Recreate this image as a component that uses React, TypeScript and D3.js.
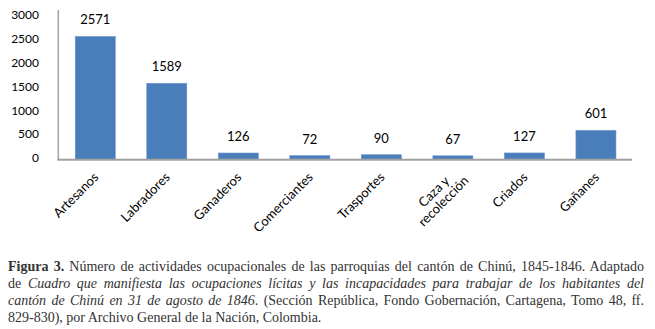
import React, { useEffect, useRef } from "react";
import * as d3 from "d3";

const categories = ["Artesanos", "Labradores", "Ganaderos", "Comerciantes", "Trasportes", "Caza y\nrecolección", "Criados", "Gañanes"];
const values = [2571, 1589, 126, 72, 90, 67, 127, 601];
const yTicks = [0, 500, 1000, 1500, 2000, 2500, 3000];

type Seg = { t: string; s?: "b" | "i" };
const captionLines: Seg[][] = [
  [{ t: "Figura 3.", s: "b" }, { t: " Número de actividades ocupacionales de las parroquias del cantón de Chinú, 1845-1846. Adaptado" }],
  [{ t: "de " }, { t: "Cuadro que manifiesta las ocupaciones lícitas y las incapacidades para trabajar de los habitantes del", s: "i" }],
  [{ t: "cantón de Chinú en 31 de agosto de 1846", s: "i" }, { t: ". (Sección República, Fondo Gobernación, Cartagena, Tomo 48, ff." }],
  [{ t: "829-830), por Archivo General de la Nación, Colombia." }],
];

const W = 655, H = 329;

export default function App() {
  const capRef = useRef<SVGGElement>(null);
  const x = d3.scaleBand<string>().domain(categories).range([59.5, 631.7]).paddingInner(0.44).paddingOuter(0.22);
  const y = d3.scaleLinear().domain([0, 3000]).range([159, 16]);

  useEffect(() => {
    if (!capRef.current) return;
    const g = d3.select(capRef.current);
    const left = 8, right = 644;
    g.selectAll<SVGTextElement, unknown>("text").each(function (_, i) {
      if (i === captionLines.length - 1) return;
      const el = this as SVGTextElement;
      el.setAttribute("word-spacing", "0");
      const w = el.getComputedTextLength();
      const txt = captionLines[i].map((s) => s.t).join("");
      const n = (txt.match(/ /g) || []).length;
      const ws = (right - left - w) / n;
      el.setAttribute("word-spacing", String(ws));
    });
  }, []);

  const font = "Lato, 'Open Sans', sans-serif";
  return (
    <svg width={W} height={H} style={{ position: "absolute", left: 0, top: 0, background: "#fff" }}>
      {/* bars */}
      {categories.map((c, i) => (
        <rect key={c} x={x(c)} y={y(values[i])} width={x.bandwidth()} height={y(0) - y(values[i])}
          fill="#4a7ebb" stroke="#6f97c9" strokeWidth={0.6} />
      ))}
      {/* axes */}
      <line x1={58.3} x2={58.3} y1={10} y2={160} stroke="#a6a6a6" strokeWidth={1.6} />
      <line x1={57.5} x2={632} y1={159.8} y2={159.8} stroke="#a0a0a0" strokeWidth={2} />
      {/* y tick labels */}
      {yTicks.map((t) => (
        <text key={t} x={39} y={y(t) - 1} dy="0.35em" textAnchor="end" fontFamily={font} fontSize={12} fill="#000">{t}</text>
      ))}
      {/* value labels */}
      {categories.map((c, i) => (
        <text key={c} x={x(c)! + x.bandwidth() / 2} y={y(values[i]) - 12} textAnchor="middle" fontFamily={font} fontSize={13} fill="#000">{values[i]}</text>
      ))}
      {/* category labels */}
      {categories.map((c) => {
        const lines = c.split("\n");
        const cx = x(c)! + x.bandwidth() / 2;
        const n = lines.length;
        return (
          <g key={c} transform={`translate(${cx + 4 + (n - 1) * 13},${178 + (n - 1) * 3}) rotate(-45)`}>
            {lines.map((l, j) => (
              <text key={j} x={n > 1 ? -33 : 0} y={(j - (n - 1)) * 13.5} textAnchor={n > 1 ? "middle" : "end"}
                fontFamily={font} fontSize={13} fill="#000">{l}</text>
            ))}
          </g>
        );
      })}
      {/* caption */}
      <g ref={capRef}>
        {captionLines.map((segs, i) => (
          <text key={i} x={8} y={271 + i * 17} fontFamily="'Liberation Serif', 'Times New Roman', serif" fontSize={14} fill="#333">
            {segs.map((s, j) => (
              <tspan key={j} fontWeight={s.s === "b" ? "bold" : "normal"} fontStyle={s.s === "i" ? "italic" : "normal"}>{s.t}</tspan>
            ))}
          </text>
        ))}
      </g>
    </svg>
  );
}
